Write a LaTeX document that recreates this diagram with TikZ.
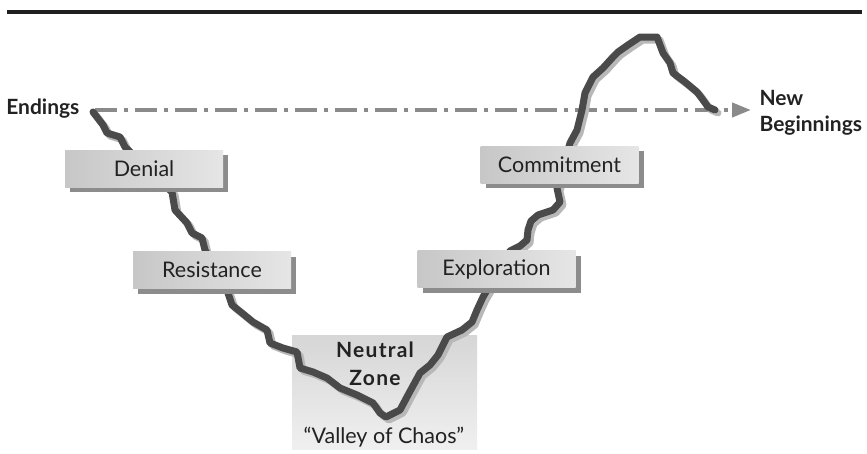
\documentclass[tikz,border=0pt]{standalone}
\usepackage{fontspec}
\setmainfont{Lato}
\usetikzlibrary{arrows.meta,shadows}
\definecolor{inkdark}{HTML}{222222}
\definecolor{wavedark}{HTML}{4A4A4A}
\definecolor{wavelight}{HTML}{B8B8B8}
\definecolor{dashgray}{HTML}{8A8A8A}
\tikzset{
  stagebox/.style={rectangle, minimum width=158pt, minimum height=37pt,
    left color=black!22, right color=black!10, text=inkdark,
    font=\fontsize{21.5}{24}\selectfont,
    drop shadow={shadow xshift=5pt, shadow yshift=-5pt, fill=black!45, opacity=1}},
  zonebox/.style={rectangle, minimum width=185pt, minimum height=114pt,
    top color=black!16, bottom color=black!6},
  wave/.style={line width=7pt, line join=round, line cap=round, draw=wavedark},
  waveshade/.style={line width=7pt, line join=round, line cap=round, draw=wavelight},
  timeline/.style={line width=4pt, draw=dashgray,
    dash pattern=on 22pt off 7pt on 4pt off 7pt,
    -{Triangle[length=19pt,width=14pt]}},
  sidelabel/.style={font=\bfseries\fontsize{21}{26}\selectfont, text=inkdark}
}
% the change curve, from endings down through the valley and up again
\def\wavepath{(93,112) -- (103,125) -- (107,133) -- (120,137) -- (125,147)
  -- (172,192) -- (175,210) -- (187,223) -- (192,233) -- (202,238) -- (205,250)
  -- (228,293) -- (232,305) -- (242,313) -- (253,322) -- (267,330) -- (270,343)
  -- (283,348) -- (297,352) -- (300,368) -- (313,372) -- (327,378) -- (340,388)
  -- (357,395) -- (373,403) -- (380,413) -- (386,417) -- (400,410) -- (408,395)
  -- (420,373) -- (430,365) -- (438,355) -- (447,337) -- (462,330) -- (472,322)
  -- (477,310) -- (483,297) -- (510,251) -- (520,246) -- (527,240) -- (528,230)
  -- (531,221) -- (538,215) -- (553,210) -- (560,202) -- (557,188) -- (570,143)
  -- (577,130) -- (582,110) -- (585,93) -- (593,77) -- (603,68) -- (613,57)
  -- (618,52) -- (628,45) -- (640,37) -- (657,37) -- (663,53) -- (670,63)
  -- (673,73) -- (685,82) -- (697,92) -- (703,100) -- (708,107) -- (715,110)}
\begin{document}
\begin{tikzpicture}[x=1pt,y=-1pt]
\useasboundingbox (0,0) rectangle (867,453);

% heading rule
\fill[black!88] (7,10) rectangle (862,14);

% neutral zone backdrop
\node[zonebox] (zone) at (384.5,392) {};
\node[font=\bfseries\fontsize{21}{28}\selectfont\addfontfeatures{LetterSpace=6}, text=inkdark, align=center]
  (zonetext) at (375,364) {Neutral\\Zone};
\node[font=\fontsize{21.5}{24}\selectfont, text=inkdark] (chaos) at (384,437)
  {“Valley of Chaos”};

% end labels and the time line between them
\node[sidelabel, anchor=east] (endings) at (83,109) {Endings};
\node[sidelabel, anchor=west, align=left] (begin) at (756,113) {New\\Beginnings};
\coordinate (linestart) at (95,110);
\coordinate (linetip) at (751,110);
\draw[timeline] (linestart) -- (linetip);

% curve with its drop shade
\draw[waveshade, shift={(3,3)}] \wavepath;
\draw[wave] \wavepath;

% stage boxes
\node[stagebox] (denial) at (144,168.5) {Denial};
\node[stagebox] (resistance) at (212,270) {Resistance};
\node[stagebox] (exploration) at (496.5,269) {Exploration};
\node[stagebox] (commitment) at (559.5,164.5) {Commitment};
\end{tikzpicture}
\end{document}
